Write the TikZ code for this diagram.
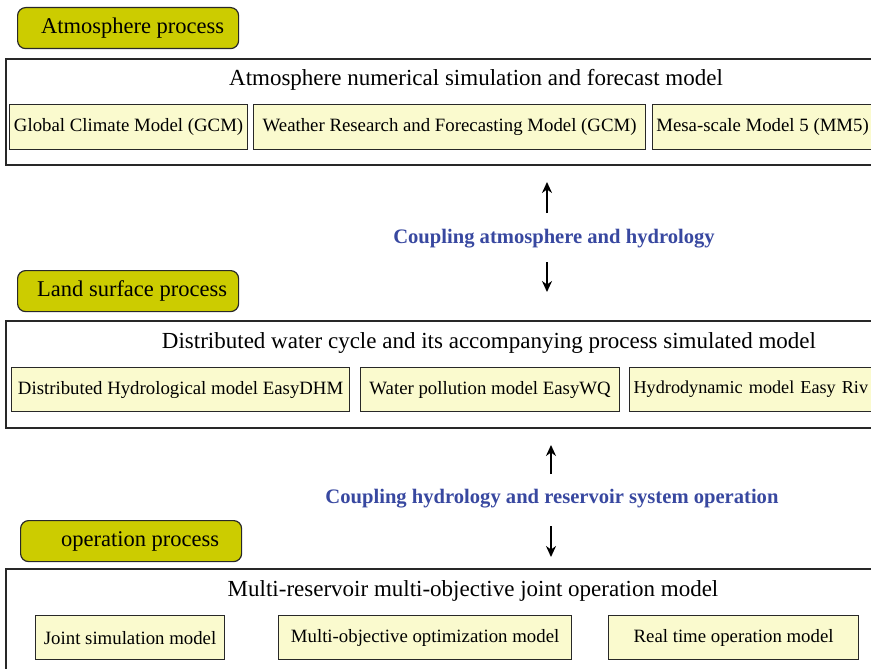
\documentclass[tikz,border=0pt]{standalone}
\usepackage{fontspec}
\setmainfont{Liberation Serif}
\usetikzlibrary{arrows.meta}
\definecolor{tagfill}{RGB}{204,204,0}
\definecolor{modfill}{RGB}{250,250,206}
\definecolor{couplecol}{RGB}{56,72,160}
\definecolor{edgecol}{RGB}{40,40,40}

\begin{document}
\begin{tikzpicture}[x=1pt,y=-1pt,
  tag/.style={draw=edgecol, line width=1.2pt, fill=tagfill, rounded corners=8pt,
    minimum width=221pt, minimum height=41pt, anchor=north west, inner sep=0pt,
    font=\fontsize{22.5}{26}\selectfont},
  frame/.style={draw=edgecol, line width=1.6pt, anchor=north west, inner sep=0pt},
  heading/.style={font=\fontsize{23}{27}\selectfont, inner sep=0pt},
  model/.style={draw=edgecol, line width=1.2pt, fill=modfill, anchor=north west,
    minimum height=44pt, inner sep=0pt, font=\fontsize{18.8}{22}\selectfont},
  couple/.style={text=couplecol, font=\fontsize{20.6}{24}\selectfont\bfseries, inner sep=0pt},
  flow/.style={-{Stealth[length=11pt,width=10pt]}, line width=2pt}
]
\clip (0,0) rectangle (871,669);

% ---- atmosphere layer ----
\node[tag] (atmtag) at (17,7) {\hspace*{9pt}Atmosphere process};
\node[frame, minimum width=900pt, minimum height=106pt] (atm) at (5,58) {};
\node[heading] (atmtitle) at (476,79.5) {Atmosphere numerical simulation and forecast model};
\node[model, minimum width=238pt, minimum height=45pt] (gcm) at (9,104) {Global Climate Model (GCM)};
\node[model, minimum width=392pt, minimum height=45pt] (wrf) at (253,104) {Weather Research and Forecasting Model (GCM)};
\node[model, minimum width=220pt, minimum height=45pt] (mm5) at (652,104) {Mesa-scale Model 5 (MM5)};

% ---- coupling atmosphere / hydrology ----
\node[couple] (c1) at (554,238.5) {Coupling atmosphere and hydrology};
\coordinate (u1a) at (547,213);
\coordinate (u1b) at (547,182);
\coordinate (d1a) at (547,262);
\coordinate (d1b) at (547,292);
\draw[flow] (u1a) -- (u1b);
\draw[flow] (d1a) -- (d1b);

% ---- land surface layer ----
\node[tag] (landtag) at (17,270) {\hspace*{8pt}Land surface process};
\node[frame, minimum width=900pt, minimum height=107pt] (land) at (5,320) {};
\node[heading] (landtitle) at (489,343.5) {Distributed water cycle and its accompanying process simulated model};
\node[model, minimum width=338pt] (dhm) at (11,367) {Distributed Hydrological model EasyDHM};
\node[model, minimum width=259pt] (wq) at (360,367) {Water pollution model EasyWQ};
\node[model, minimum width=280pt, text width=272pt, align=left, inner xsep=4pt,
  font=\fontsize{18.2}{22}\selectfont] (riv) at (629,367) {Hydrodynamic model Easy Riv};

% ---- coupling hydrology / reservoir ----
\node[couple] (c2) at (552,498.5) {Coupling hydrology and reservoir system operation};
\coordinate (u2a) at (551,474);
\coordinate (u2b) at (551,445);
\coordinate (d2a) at (551,526);
\coordinate (d2b) at (551,557);
\draw[flow] (u2a) -- (u2b);
\draw[flow] (d2a) -- (d2b);

% ---- operation layer ----
\node[tag] (optag) at (20,520) {\hspace*{18pt}operation process};
\node[frame, minimum width=900pt, minimum height=130pt] (op) at (5,568) {};
\node[heading] (optitle) at (473,590.5) {Multi-reservoir multi-objective joint operation model};
\node[model, minimum width=189pt] (joint) at (35,615) {Joint simulation model};
\node[model, minimum width=293pt] (moo) at (278,615) {Multi-objective optimization model};
\node[model, minimum width=250pt] (rto) at (608,615) {Real time operation model};
\end{tikzpicture}
\end{document}
